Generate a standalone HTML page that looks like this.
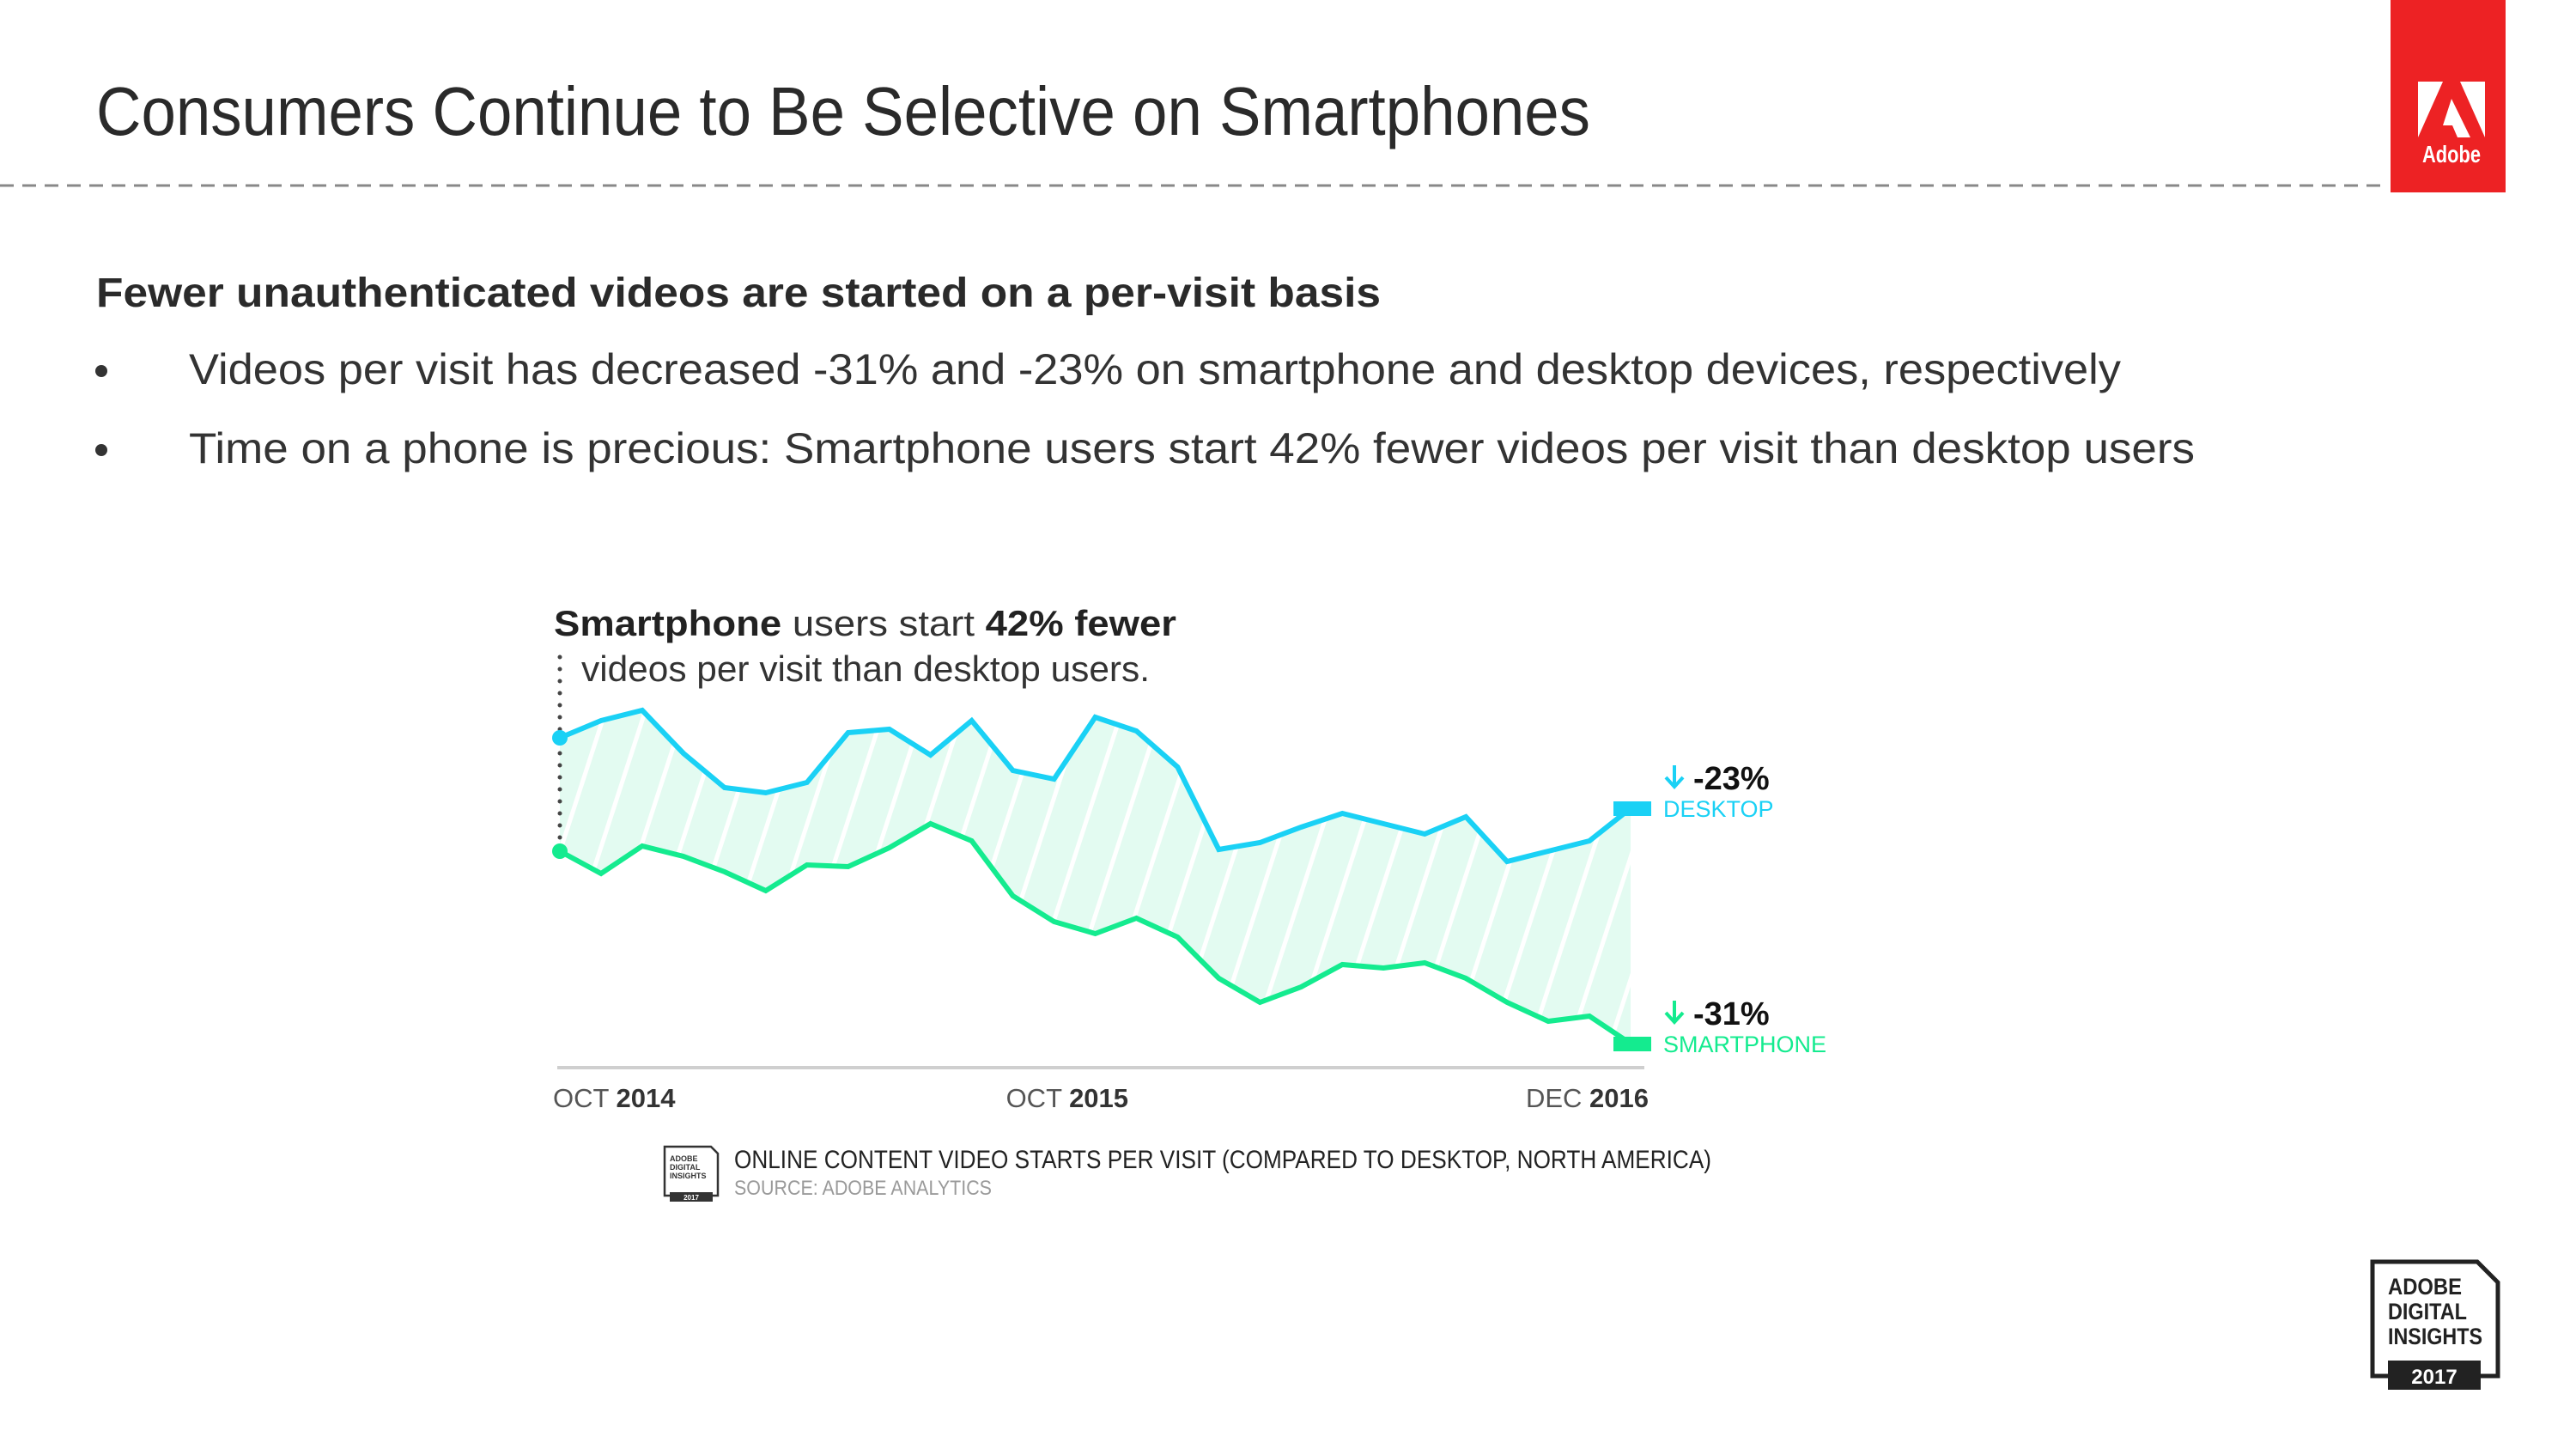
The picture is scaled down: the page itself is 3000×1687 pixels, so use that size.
<!DOCTYPE html>
<html><head><meta charset="utf-8"><style>
html,body{margin:0;padding:0;background:#fff;width:3000px;height:1687px;overflow:hidden}
svg{display:block;font-family:"Liberation Sans",sans-serif}
</style></head><body>
<svg id="root" width="3000" height="1687" viewBox="0 0 3000 1687">
<defs>
<pattern id="hatch" patternUnits="userSpaceOnUse" width="44" height="44" patternTransform="rotate(18)">
<rect width="44" height="44" fill="#e3fbf1"/>
<rect x="0" y="0" width="5" height="44" fill="#ffffff"/>
</pattern>
</defs>
<text x="112" y="157" font-size="80" fill="#2a2a2a" textLength="1740" lengthAdjust="spacingAndGlyphs">Consumers Continue to Be Selective on Smartphones</text>
<line x1="0" y1="216" x2="2782" y2="216" stroke="#888" stroke-width="3" stroke-dasharray="16 10"/>
<g>
<rect x="2784" y="0" width="134" height="224" fill="#ed2224"/>
<polygon points="2816,95 2845,95 2816,160" fill="#fff"/>
<polygon points="2865,95 2894,95 2894,160" fill="#fff"/>
<polygon points="2855,115 2877,160 2862,160 2856,146 2845,146" fill="#fff"/>
<text x="2855" y="189" font-size="28" font-weight="bold" fill="#fff" text-anchor="middle" textLength="68" lengthAdjust="spacingAndGlyphs">Adobe</text>
</g>
<text x="112" y="357" font-size="48" font-weight="bold" fill="#2a2a2a" textLength="1496" lengthAdjust="spacingAndGlyphs">Fewer unauthenticated videos are started on a per-visit basis</text>
<circle cx="118" cy="432" r="7" fill="#333"/>
<text x="220" y="447" font-size="50" fill="#333" textLength="2250" lengthAdjust="spacingAndGlyphs">Videos per visit has decreased -31% and -23% on smartphone and desktop devices, respectively</text>
<circle cx="118" cy="524" r="7" fill="#333"/>
<text x="220" y="539" font-size="50" fill="#333" textLength="2336" lengthAdjust="spacingAndGlyphs">Time on a phone is precious: Smartphone users start 42% fewer videos per visit than desktop users</text>
<text x="645" y="740" font-size="42" fill="#333" textLength="725" lengthAdjust="spacingAndGlyphs"><tspan font-weight="bold" fill="#222">Smartphone</tspan> users start <tspan font-weight="bold" fill="#222">42% fewer</tspan></text>
<text x="677" y="793" font-size="42" fill="#333" textLength="662" lengthAdjust="spacingAndGlyphs">videos per visit than desktop users.</text>
<g id="chart"></g>
<g>
<g>
<path d="M774,1335 H828 L836,1343 V1392 H774 Z" fill="#fff" stroke="#333" stroke-width="2.5"/>
<rect x="780" y="1388" width="50" height="11" fill="#333"/>
<text x="780" y="1352" font-size="9" font-weight="bold" fill="#333">ADOBE</text>
<text x="780" y="1362" font-size="9" font-weight="bold" fill="#333">DIGITAL</text>
<text x="780" y="1372" font-size="9" font-weight="bold" fill="#333">INSIGHTS</text>
<text x="805" y="1397" font-size="8" font-weight="bold" fill="#fff" text-anchor="middle">2017</text>
</g>
<text x="855" y="1360" font-size="30" fill="#222" textLength="1138" lengthAdjust="spacingAndGlyphs">ONLINE CONTENT VIDEO STARTS PER VISIT (COMPARED TO DESKTOP, NORTH AMERICA)</text>
<text x="855" y="1391" font-size="24" fill="#9a9a9a" textLength="300" lengthAdjust="spacingAndGlyphs">SOURCE: ADOBE ANALYTICS</text>
</g>
<g>
<path d="M2763,1469 H2885 L2909,1493 V1602 H2763 Z" fill="#fff" stroke="#222" stroke-width="5"/>
<rect x="2781" y="1584" width="108" height="34" fill="#222"/>
<text x="2781" y="1507" font-size="27" font-weight="bold" fill="#222" textLength="86" lengthAdjust="spacingAndGlyphs">ADOBE</text>
<text x="2781" y="1536" font-size="27" font-weight="bold" fill="#222" textLength="92" lengthAdjust="spacingAndGlyphs">DIGITAL</text>
<text x="2781" y="1565" font-size="27" font-weight="bold" fill="#222" textLength="110" lengthAdjust="spacingAndGlyphs">INSIGHTS</text>
<text x="2835" y="1611" font-size="24" font-weight="bold" fill="#fff" text-anchor="middle">2017</text>
</g>
</svg>
<script>
const months = ["Oct 2014","Nov 2014","Dec 2014","Jan 2015","Feb 2015","Mar 2015","Apr 2015","May 2015","Jun 2015","Jul 2015","Aug 2015","Sep 2015","Oct 2015","Nov 2015","Dec 2015","Jan 2016","Feb 2016","Mar 2016","Apr 2016","May 2016","Jun 2016","Jul 2016","Aug 2016","Sep 2016","Oct 2016","Nov 2016","Dec 2016"];
const desktop = [1.92,2.02,2.08,1.83,1.63,1.60,1.66,1.95,1.97,1.82,2.02,1.73,1.68,2.04,1.96,1.75,1.27,1.31,1.40,1.48,1.42,1.36,1.46,1.20,1.26,1.32,1.51];
const smartphone = [1.26,1.13,1.29,1.23,1.14,1.03,1.18,1.17,1.28,1.42,1.32,1.00,0.85,0.78,0.87,0.76,0.52,0.38,0.47,0.60,0.58,0.61,0.52,0.38,0.27,0.30,0.14];
const tickIdx = [0,11,26];
const tickMonth = ["OCT","OCT","DEC"];
const tickYear = ["2014","2015","2016"];
const changeLabels = ["-23%","-31%"];
const seriesNames = ["DESKTOP","SMARTPHONE"];

const NS="http://www.w3.org/2000/svg";
const g=document.getElementById('chart');
const X0=652, X1=1899, Y0=1243, K=200;
function xs(i){return X0+(X1-X0)*i/(months.length-1);}
function ys(v){return Y0-K*v;}
function mk(t,a){const e=document.createElementNS(NS,t);for(const k in a)e.setAttribute(k,a[k]);g.appendChild(e);return e;}

const area=mk('path',{d:'M'+desktop.map((v,i)=>xs(i)+','+ys(v)).join('L')+'L'+smartphone.map((v,i)=>[i,v]).reverse().map(p=>xs(p[0])+','+ys(p[1])).join('L')+'Z',fill:'url(#hatch)'});



const axis=mk('line',{x1:649,y1:Y0,x2:1915,y2:Y0,stroke:'#cfcfcf','stroke-width':4});



const guide=mk('line',{x1:xs(0),y1:765,x2:xs(0),y2:ys(smartphone[0]),stroke:'#444','stroke-width':5,'stroke-dasharray':'0 14','stroke-linecap':'round'});



const cols=['#1ad1f5','#14eb8f'];
[desktop,smartphone].forEach((ser,si)=>{
  const ln=mk('polyline',{points:ser.map((v,i)=>xs(i)+','+ys(v)).join(' '),fill:'none',stroke:cols[si],'stroke-width':6,'stroke-linejoin':'miter'});
  
  
  const dot=mk('circle',{cx:xs(0),cy:ys(ser[0]),r:9,fill:cols[si]});
  
  
  const last=ser[ser.length-1], ly=ys(last);
  const sq=mk('rect',{x:xs(ser.length-1)-20,y:ly-8,width:44,height:17,fill:cols[si]});
  
  
  const ar=mk('path',{d:`M${1950},${ly-50} V${ly-26} M${1940},${ly-36} L${1950},${ly-25} L${1960},${ly-36}`,fill:'none',stroke:cols[si],'stroke-width':4});
  
  
  const ch=mk('text',{x:1972,y:ly-22,'font-size':38,'font-weight':'bold',fill:'#111'});
  ch.textContent=changeLabels[si];
  
  
  const nm=mk('text',{x:1937,y:ly+10,'font-size':27,fill:cols[si]});
  nm.textContent=seriesNames[si];
  
  
});

tickIdx.forEach((ti,k)=>{
  const last=k===tickIdx.length-1;
  const t=mk('text',{x:last?1920:xs(ti)-8,y:1289,'font-size':31,fill:'#555','text-anchor':last?'end':'start'});
  const a=document.createElementNS(NS,'tspan');a.textContent=tickMonth[k]+' ';t.appendChild(a);
  const b=document.createElementNS(NS,'tspan');b.setAttribute('font-weight','bold');b.setAttribute('fill','#333');b.textContent=tickYear[k];t.appendChild(b);
  
  
});
</script>
</body></html>
